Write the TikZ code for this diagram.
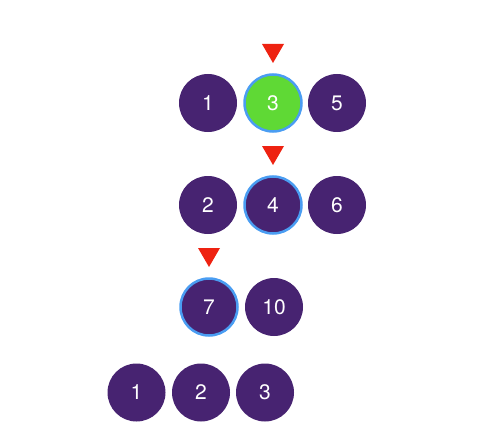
\documentclass[tikz,border=0pt]{standalone}
\usepackage{fontspec}
\setmainfont{TeX Gyre Heros}
\usetikzlibrary{calc}
\definecolor{purp}{HTML}{472371}
\definecolor{grn}{HTML}{5FD935}
\definecolor{hl}{HTML}{4A9DF2}
\definecolor{mark}{HTML}{EE2211}
\tikzset{
  ball/.style={circle, fill=purp, draw=none, minimum size=58pt, inner sep=0pt, text=white, font=\fontsize{21}{25}\selectfont},
  cur/.style={ball, draw=hl, line width=2.5pt, minimum size=57pt},
  found/.style={cur, fill=grn},
  pointer/.style={fill=mark, draw=none}
}
\newcommand{\ptr}[1]{\fill[pointer] ($(#1)+(-11,-59)$) -- ($(#1)+(11,-59)$) -- ($(#1)+(0,-40)$) -- cycle;}
\begin{document}
\begin{tikzpicture}[x=1pt,y=-1pt]
\useasboundingbox (0,0) rectangle (500,425);
% row 1
\node[ball]  (a1) at (208,103) {1};
\node[found] (a2) at (273,103) {3};
\node[ball]  (a3) at (337,103) {5};
\ptr{a2}
% row 2
\node[ball] (b1) at (208,205) {2};
\node[cur]  (b2) at (273,205) {4};
\node[ball] (b3) at (337,205) {6};
\ptr{b2}
% row 3
\node[cur]  (c1) at (209,307) {7};
\node[ball] (c2) at (274,307) {10};
\ptr{c1}
% row 4
\node[ball] (d1) at (136.5,392.5) {1};
\node[ball] (d2) at (201,392.5) {2};
\node[ball] (d3) at (265,392.5) {3};
\end{tikzpicture}
\end{document}
